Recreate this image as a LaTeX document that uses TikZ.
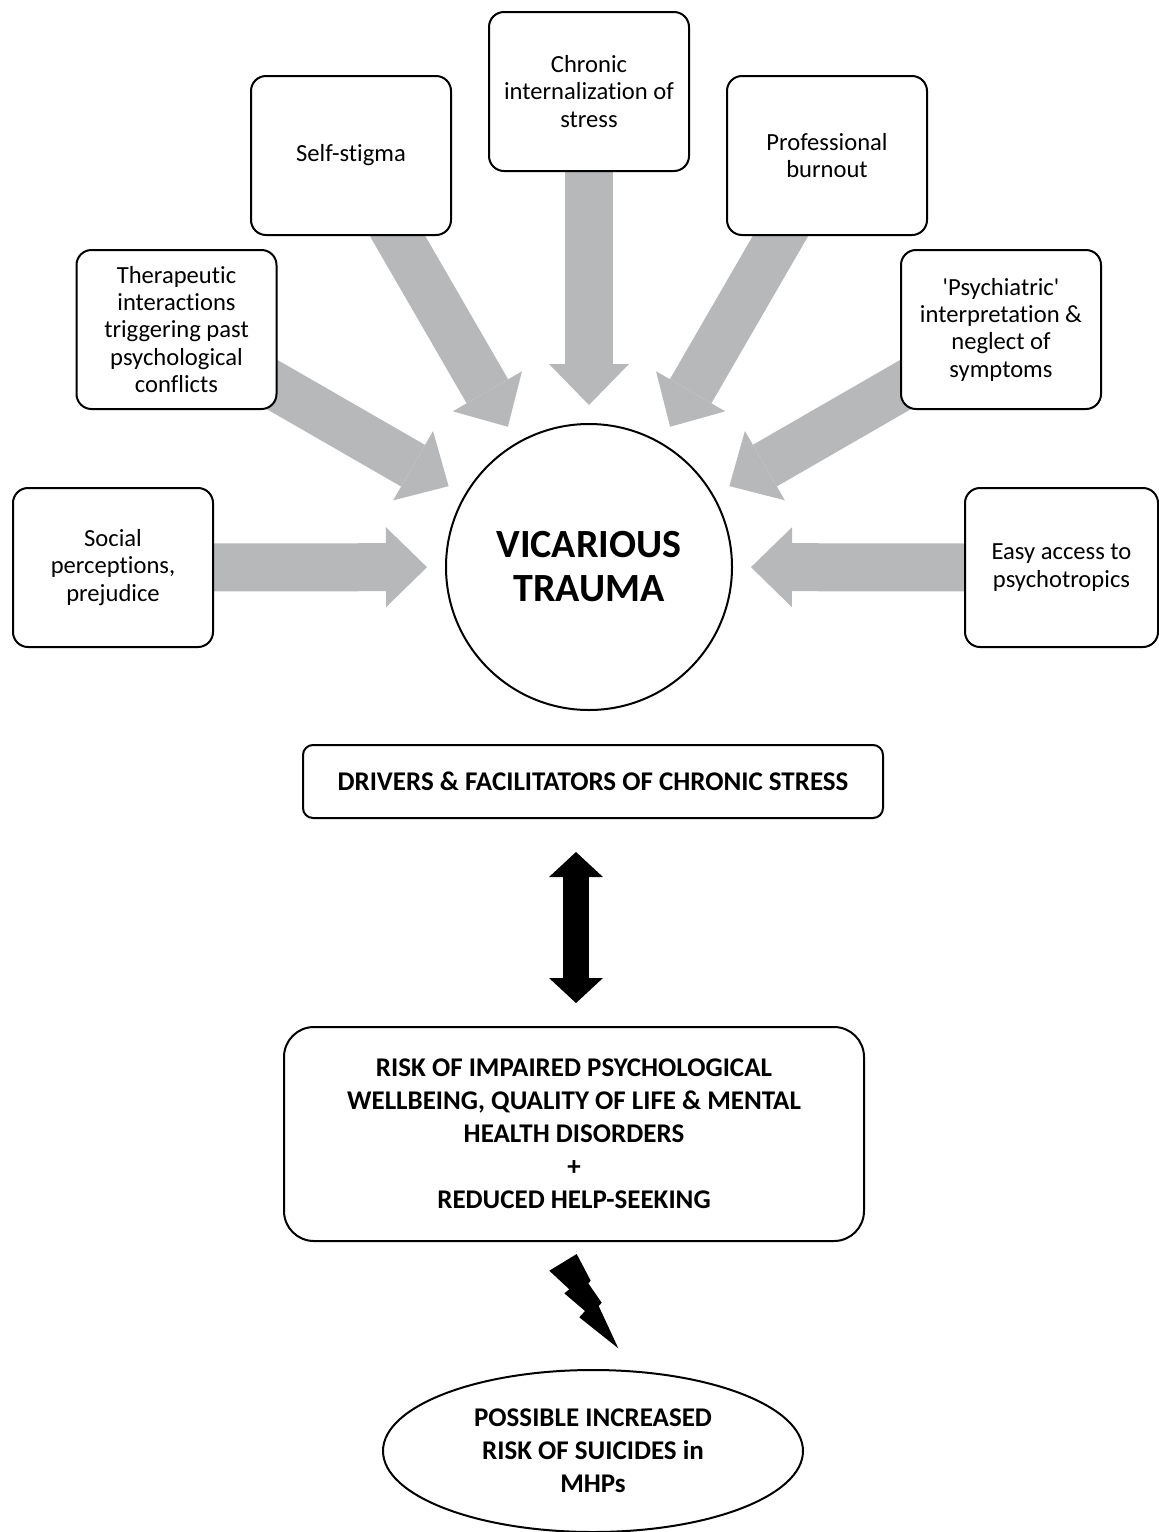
\documentclass[tikz,border=0pt]{standalone}
\usepackage{fontspec}
\setmainfont[Ligatures=NoCommon]{Carlito}
\usetikzlibrary{arrows.meta,shapes.geometric,backgrounds}
\definecolor{arrowgray}{HTML}{B7B8BA}

\tikzset{
	factor/.style={draw, line width=1pt, rounded corners=7.5pt, fill=white, minimum width=100pt, minimum height=79.5pt, inner sep=0pt, align=center, font=\fontsize{12.3}{13.65}\selectfont},
	capsbox/.style={draw, line width=1pt, fill=white, inner sep=0pt, align=center, font=\bfseries\fontsize{13.5}{16.5}\selectfont},
	push/.style={draw=arrowgray, line width=24pt, -{Triangle[length=20.5pt,width=40pt,line width=0pt]}, shorten >=9pt},
	twoway/.style={draw=black, line width=13pt, {Triangle[length=12.5pt,width=27pt,line width=0pt]}-{Triangle[length=12.5pt,width=27pt,line width=0pt]}}
}

\begin{document}
\begin{tikzpicture}[x=0.5pt, y=-0.5pt]
	\useasboundingbox (0,0) rectangle (1159,1532);

	\node[draw, circle, line width=1pt, minimum size=143pt, inner sep=0pt, align=center, font=\bfseries\fontsize{20}{22}\selectfont] (vt) at (589,567) {VICARIOUS\\TRAUMA};

	\node[factor] (social) at (113,567.5) {Social\\perceptions,\\prejudice};
	\node[factor] (therapeutic) at (176.5,329.5) {Therapeutic\\interactions\\triggering past\\psychological\\conflicts};
	\node[factor] (selfstigma) at (351,155.5) {Self-stigma};
	\node[factor] (chronic) at (589,91.5) {Chronic\\internalization of\\stress};
	\node[factor] (burnout) at (827,155.5) {Professional\\burnout};
	\node[factor] (psychiatric) at (1001,329.5) {\textquotesingle Psychiatric\textquotesingle\\interpretation \&\\neglect of\\symptoms};
	\node[factor, minimum width=96.5pt] (access) at (1061.5,567.5) {Easy access to\\psychotropics};

	\begin{scope}[on background layer]
		\foreach \src in {social,therapeutic,selfstigma,chronic,burnout,psychiatric,access}
			\draw[push] (\src.center) -- (vt);
	\end{scope}

	\node[capsbox, rounded corners=5pt, minimum width=290pt, minimum height=36.5pt] (drivers) at (593,781.5) {DRIVERS \& FACILITATORS OF CHRONIC STRESS};
	\node[capsbox, rounded corners=15pt, minimum width=290pt, minimum height=107pt] (risk) at (574,1134) {RISK OF IMPAIRED PSYCHOLOGICAL\\WELLBEING, QUALITY OF LIFE \& MENTAL\\HEALTH DISORDERS\\+\\REDUCED HELP-SEEKING};
	\node[capsbox, ellipse, minimum width=210pt, minimum height=81pt] (suicide) at (593,1451) {POSSIBLE INCREASED\\RISK OF SUICIDES in\\MHPs};

	\draw[twoway, shorten <=16.5pt, shorten >=11.5pt] ([xshift=-8.5pt]drivers.south) -- ([xshift=1pt]risk.north);

	\fill (549.3,1270.7) -- (576.7,1254) -- (590.7,1280.7) -- (588.3,1283.3) -- (601.7,1302.7) -- (598.7,1306) -- (618.3,1348.3) -- (579.3,1317.3) -- (585,1311) -- (564.3,1293.3) -- (569.3,1289.3) -- cycle;
\end{tikzpicture}
\end{document}
